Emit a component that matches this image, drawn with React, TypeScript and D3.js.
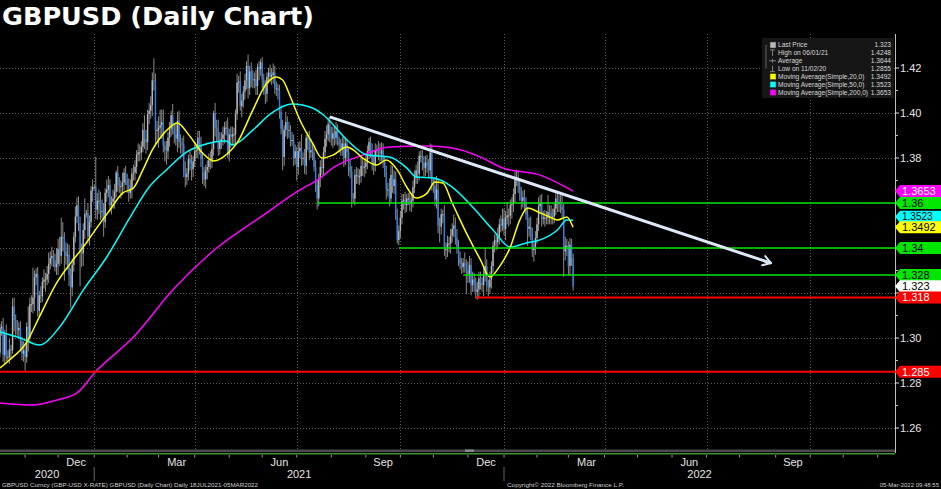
import React from 'react';
import * as d3 from 'd3';

const W = 941;
const H = 489;

// first bar of the chart (Fri 9 Oct 2020); bars are weekdays only
const firstDay = Date.UTC(2020, 9, 9);
const firstOpen = 12935;

// daily closes in pips (1/10000), one row per week
const closes = [
  13045,
  13050, 12925, 13015, 12915, 12915,
  12950, 12945, 13140, 13080, 13045,
  13035, 13045, 12985, 12930, 12945,
  12915, 13050, 13000, 13150, 13150,
  13180, 13270, 13285, 13120, 13190,
  13185, 13250, 13260, 13260, 13285,
  13330, 13355, 13365, 13345, 13315,
  13330, 13395, 13365, 13450, 13440,
  13385, 13365, 13370, 13280, 13225,
  13325, 13450, 13540, 13590, 13510,
  13380, 13375, 13480, 13550, 13555,
  13450, 13515, 13655, 13670, 13670,
  // 2021
  13570, 13610, 13610, 13560, 13565,
  13515, 13645, 13660, 13680, 13590,
  13605, 13620, 13650, 13735, 13685,
  13675, 13675, 13690, 13735, 13705,
  13680, 13645, 13665, 13730, 13735,
  13760, 13815, 13825, 13825, 13850,
  13925, 13885, 13870, 13995, 14010,
  14035, 14145, 14140, 13920, 13925,
  13935, 13945, 13960, 13855, 13835,
  13830, 13890, 13930, 13990, 13925,
  13905, 13885, 13965, 13870, 13865,
  13860, 13740, 13715, 13730, 13795,
  13775, 13750, 13785, 13830, 13835,
  13890, 13860, 13795, 13735, 13705,
  13745, 13760, 13790, 13785, 13840,
  14000, 13935, 13930, 13840, 13875,
  13885, 13905, 13935, 13935, 13815,
  13905, 13895, 13905, 13905, 13995,
  14135, 14140, 14030, 14055, 14095,
  14145, 14210, 14110, 14185, 14150,
  14145, 14150, 14120, 14205, 14195,
  14225, 14150, 14110, 14085, 14160,
  14180, 14160, 14170, 14180, 14110,
  14110, 14100, 14005, 13930, 13805,
  13925, 13960, 13925, 13925, 13880,
  13880, 13800, 13830, 13760, 13830,
  13845, 13800, 13800, 13765, 13890,
  13880, 13825, 13835, 13825, 13760,
  13680, 13620, 13710, 13760, 13755,
  13825, 13885, 13905, 13950, 13905,
  13885, 13910, 13890, 13920, 13875,
  13860, 13840, 13865, 13800, 13865,
  13825, 13760, 13740, 13625, 13620,
  13725, 13725, 13715, 13720, 13765,
  13760, 13760, 13780, 13830, 13870,
  13830, 13780, 13765, 13835, 13835,
  13825, 13820, 13835, 13785, 13735,
  13660, 13660, 13620, 13725, 13675,
  13705, 13545, 13435, 13475, 13535,
  13610, 13615, 13590, 13620, 13620,
  13595, 13610, 13670, 13715, 13745,
  13730, 13810, 13810, 13780, 13755,
  13780, 13765, 13745, 13825, 13680,
  13675, 13615, 13660, 13500, 13495,
  13550, 13550, 13395, 13395, 13420,
  13420, 13455, 13485, 13500, 13445,
  13405, 13355, 13330, 13315, 13335,
  13320, 13300, 13285, 13325, 13235,
  13260, 13245, 13205, 13215, 13265,
  13245, 13235, 13280, 13320, 13235,
  13225, 13260, 13320, 13410, 13435,
  13425, 13450, 13505, 13500, 13530,
  // 2022
  13485, 13535, 13545, 13545, 13590,
  13595, 13640, 13710, 13715, 13675,
  13645, 13610, 13625, 13600, 13550,
  13485, 13495, 13465, 13390, 13405,
  13445, 13505, 13585, 13600, 13530,
  13535, 13535, 13535, 13560, 13555,
  13535, 13540, 13575, 13620, 13595,
  13605, 13585, 13570, 13385, 13410,
  13410, 13320, 13415, 13355, 13230,
];

// wick above the body, pips
const upperWick = [
  18,
  25, 40, 20, 45, 30,
  45, 20, 37, 40, 25,
  35, 25, 30, 20, 40,
  30, 20, 90, 30, 40,
  133, 30, 25, 30, 20,
  40, 20, 45, 30, 35,
  50, 30, 40, 25, 30,
  70, 45, 55, 85, 65,
  30, 40, 50, 45, 30,
  30, 20, 45, 35, 40,
  30, 40, 30, 70, 15,
  45, 30, 20, 35, 10,
  // 2021
  135, 35, 50, 40, 50,
  35, 20, 45, 40, 25,
  25, 40, 35, 10, 30,
  30, 25, 45, 20, 30,
  25, 30, 40, 25, 35,
  30, 20, 40, 35, 25,
  30, 65, 40, 20, 35,
  40, 35, 98, 35, 40,
  50, 70, 55, 55, 20,
  40, 25, 30, 20, 50,
  30, 45, 40, 45, 35,
  25, 40, 45, 25, 20,
  35, 40, 25, 30, 20,
  30, 30, 35, 30, 25,
  25, 30, 30, 40, 30,
  10, 45, 35, 40, 40,
  30, 35, 25, 30, 45,
  25, 35, 35, 30, 20,
  40, 25, 45, 30, 25,
  30, 20, 50, 25, 40,
  40, 30, 40, 15, 25,
  15, 23, 25, 35, 20,
  20, 35, 30, 40, 30,
  30, 20, 25, 30, 40,
  20, 45, 25, 35, 20,
  35, 25, 30, 20, 40,
  30, 60, 25, 40, 15,
  25, 40, 50, 30, 30,
  30, 25, 20, 30, 35,
  25, 35, 40, 30, 33,
  35, 30, 30, 40, 30,
  20, 25, 30, 30, 25,
  20, 25, 35, 25, 20,
  25, 35, 30, 30, 40,
  35, 30, 35, 25, 20,
  25, 35, 30, 30, 25,
  40, 40, 35, 30, 25,
  30, 30, 50, 45, 40,
  40, 35, 30, 25, 30,
  30, 25, 35, 20, 25,
  30, 35, 30, 30, 25,
  40, 20, 24, 25, 30,
  30, 35, 30, 40, 35,
  30, 40, 60, 50, 35,
  25, 20, 40, 30, 35,
  30, 30, 25, 50, 35,
  40, 30, 30, 25, 20,
  45, 30, 40, 40, 30,
  35, 30, 25, 35, 30,
  30, 25, 40, 80, 30,
  25, 35, 20, 20, 25,
  30, 40, 25, 40, 45,
  // 2022
  45, 30, 60, 30, 25,
  30, 25, 30, 34, 30,
  30, 25, 30, 35, 25,
  30, 40, 45, 25, 20,
  30, 30, 40, 35, 40,
  30, 35, 30, 75, 30,
  35, 35, 30, 35, 25,
  30, 30, 50, 25, 40,
  30, 20, 30, 25, 20,
];

// wick below the body, pips
const lowerWick = [
  20,
  35, 30, 45, 20, 25,
  30, 35, 15, 50, 40,
  25, 40, 45, 30, 35,
  60, 25, 60, 20, 35,
  40, 60, 35, 25, 30,
  30, 25, 30, 55, 25,
  40, 25, 35, 30, 20,
  35, 50, 45, 35, 55,
  130, 40, 60, 50, 90,
  40, 30, 25, 30, 35,
  150, 60, 55, 40, 15,
  30, 40, 25, 50, 10,
  // 2021
  40, 45, 60, 35, 30,
  65, 25, 40, 35, 30,
  40, 30, 45, 25, 35,
  30, 55, 40, 35, 25,
  35, 40, 25, 45, 30,
  35, 30, 30, 40, 35,
  25, 45, 50, 35, 45,
  35, 50, 40, 60, 40,
  80, 40, 60, 30, 50,
  60, 35, 40, 35, 20,
  40, 30, 60, 25, 45,
  55, 25, 45, 35, 30,
  30, 50, 35, 25, 30,
  35, 45, 35, 50, 30,
  40, 40, 25, 35, 30,
  30, 40, 55, 30, 25,
  35, 30, 40, 35, 15,
  30, 50, 40, 45, 45,
  25, 45, 20, 50, 30,
  35, 40, 45, 30, 35,
  35, 35, 40, 40, 50,
  30, 40, 30, 45, 35,
  30, 25, 35, 40, 25,
  35, 40, 30, 25, 60,
  40, 30, 40, 35, 30,
  25, 35, 30, 60, 35,
  30, 35, 30, 35, 40,
  45, 35, 25, 35, 20,
  30, 48, 35, 40, 30,
  30, 30, 35, 30, 35,
  30, 40, 35, 30, 20,
  35, 30, 30, 40, 30,
  35, 40, 30, 45, 20,
  30, 40, 30, 35, 30,
  40, 45, 30, 30, 35,
  30, 35, 40, 25, 30,
  35, 40, 35, 30, 20,
  45, 30, 35, 25, 30,
  35, 20, 15, 23, 30,
  30, 40, 35, 30, 30,
  30, 35, 30, 25, 30,
  45, 30, 30, 35, 40,
  35, 30, 35, 30, 25,
  30, 30, 40, 35, 70,
  35, 40, 30, 45, 35,
  40, 45, 30, 35, 30,
  30, 35, 25, 30, 25,
  30, 105, 40, 40, 45,
  30, 40, 30, 35, 40,
  30, 30, 50, 30, 30,
  40, 30, 40, 30, 30,
  35, 30, 35, 30, 25,
  // 2022
  30, 50, 30, 50, 40,
  60, 35, 40, 35, 30,
  35, 40, 30, 40, 25,
  75, 35, 30, 30, 50,
  35, 25, 30, 35, 35,
  25, 40, 30, 30, 50,
  30, 30, 30, 30, 35,
  35, 30, 35, 113, 40,
  45, 45, 40, 35, 20,
];

// moving averages: [bar index, price]
const ma20 = [
  [0, 1.2867], [6, 1.2902], [17, 1.2982], [25, 1.3093], [36, 1.3244], [45, 1.3333],
  [53, 1.3404], [62, 1.3493], [70, 1.3569], [78, 1.3644], [85, 1.3667], [91, 1.3747],
  [97, 1.3836], [105, 1.3915], [113, 1.3956], [120, 1.3905], [129, 1.3822], [136, 1.3787],
  [146, 1.3827], [151, 1.3867], [161, 1.4013], [170, 1.4133], [176, 1.416], [180, 1.4147],
  [185, 1.4071], [191, 1.3969], [199, 1.3867], [205, 1.38], [212, 1.3813], [221, 1.3849],
  [225, 1.3836], [231, 1.38], [240, 1.3769], [246, 1.3791], [253, 1.3747], [259, 1.3671],
  [265, 1.3622], [272, 1.3644], [277, 1.3693], [282, 1.3689], [288, 1.36], [297, 1.3467],
  [306, 1.3347], [312, 1.3271], [318, 1.3316], [325, 1.3404], [331, 1.3524], [336, 1.3578],
  [344, 1.3556], [350, 1.3538], [355, 1.3524], [361, 1.3538], [365, 1.3492],
];
const ma50 = [
  [0, 1.3027], [13, 1.3], [25, 1.2969], [38, 1.3049], [53, 1.3213], [68, 1.336],
  [83, 1.3538], [95, 1.3671], [106, 1.3747], [119, 1.3827], [127, 1.3853], [144, 1.3876],
  [148, 1.3858], [161, 1.3924], [172, 1.3995], [178, 1.4022], [186, 1.404], [199, 1.4022],
  [206, 1.3991], [221, 1.388], [234, 1.3813], [248, 1.3804], [259, 1.3756], [265, 1.3716],
  [276, 1.3711], [288, 1.3671], [301, 1.3582], [314, 1.348], [325, 1.3404], [335, 1.3422],
  [344, 1.3436], [355, 1.348], [361, 1.3524], [365, 1.3523],
];
const ma200 = [
  [0, 1.2711], [21, 1.2702], [36, 1.2724], [49, 1.2756], [61, 1.2851], [85, 1.3004],
  [110, 1.3213], [138, 1.34], [166, 1.3538], [191, 1.3658], [204, 1.3711], [212, 1.3756],
  [231, 1.3813], [248, 1.3849], [272, 1.3853], [288, 1.3844], [306, 1.3804], [320, 1.3756],
  [344, 1.3724], [365, 1.3653],
];

// drawn support / resistance levels and the dates they start from
const levelPrices = [1.36, 1.34, 1.328, 1.318, 1.285];
const levelStarts = ['2021-07-20', '2021-09-30', '2021-11-26', '2021-12-08', '2020-10-09'];
const levelKinds = ['pivot', 'pivot', 'pivot', 'low', 'low'];

// falling trendline: [date, price]
const trendFrom: [string, number] = ['2021-07-30', 1.3983];
const trendTo: [string, number] = ['2022-08-29', 1.3333];

const lastPrice = 1.323;
const legendRows = [
  ['Last Price', '1.323'],
  ['High on 06/01/21', '1.4248'],
  ['Average', '1.3644'],
  ['Low on 11/02/20', '1.2855'],
  ['Moving Average(Simple,20,0)', '1.3492'],
  ['Moving Average(Simple,50,0)', '1.3523'],
  ['Moving Average(Simple,200,0)', '1.3653'],
];
const monthNames = ['Jan', 'Feb', 'Mar', 'Apr', 'May', 'Jun', 'Jul', 'Aug', 'Sep', 'Oct', 'Nov', 'Dec'];

const FONT = "'Liberation Sans', Arial, sans-serif";
const C = {
  bg: '#000000',
  grid: '#5a5a5a',
  text: '#e4e4e4',
  up: '#b8b8b8',
  down: '#2b82e6',
  wick: '#8a8a8a',
  ma20: '#ffff00',
  ma50: '#00ffff',
  ma200: '#ff00ff',
  green: '#00e600',
  red: '#ff0000',
  trend: '#dde9f6',
};

// weekday calendar
const days: Date[] = [];
for (let t = firstDay; days.length < 600; t += 864e5) {
  const wd = new Date(t).getUTCDay();
  if (wd !== 0 && wd !== 6) days.push(new Date(t));
}
const dayIdx = (s: string) => {
  const t = Date.parse(s + 'T00:00:00Z');
  return days.findIndex((d) => d.getTime() >= t);
};

const axisX = 895;
const plotTop = 34;
const plotBottom = 450;

const x = d3.scaleLinear().domain([0, 570]).range([0, axisX]);
const y = d3.scaleLinear().domain([1.26, 1.42]).range([428, 68]);

const bars = closes.map((c, i) => {
  const o = i === 0 ? firstOpen : closes[i - 1];
  return {
    i,
    o: o / 1e4,
    c: c / 1e4,
    h: (Math.max(o, c) + upperWick[i]) / 1e4,
    l: (Math.min(o, c) - lowerWick[i]) / 1e4,
  };
});

const maLine = d3
  .line<number[]>()
  .x((d) => x(d[0]))
  .y((d) => y(d[1]))
  .curve(d3.curveMonotoneX);

// month boundaries
const months: { year: number; month: number; x: number; next: number }[] = [];
for (let k = 0; k < 28; k++) {
  const yr = 2020 + Math.floor((9 + k) / 12);
  const mo = (9 + k) % 12;
  const a = dayIdx(`${yr}-${String(mo + 1).padStart(2, '0')}-01`);
  const nyr = 2020 + Math.floor((10 + k) / 12);
  const nmo = (10 + k) % 12;
  const b = dayIdx(`${nyr}-${String(nmo + 1).padStart(2, '0')}-01`);
  months.push({ year: yr, month: mo, x: x(Math.max(a, 0)), next: x(b) });
}

const tag = (yy: number) =>
  `M${axisX},${yy} L${axisX + 5},${yy - 6} L${W},${yy - 6} L${W},${yy + 6} L${axisX + 5},${yy + 6} Z`;

export default function App() {
  const maLast = (m: number[][]) => m[m.length - 1][1];
  // nudge: the 50-day tag sits just above the 20-day one, mostly covered by it
  const tags = [
    { v: maLast(ma200), text: '1.3653', fill: C.ma200, ink: '#fff', nudge: 0 },
    { v: levelPrices[0], text: String(levelPrices[0]), fill: C.green, ink: '#000', nudge: 0 },
    { v: maLast(ma50), text: '1.3523', fill: C.ma50, ink: '#000', nudge: -3.5 },
    { v: maLast(ma20), text: '1.3492', fill: C.ma20, ink: '#000', nudge: 0 },
    { v: levelPrices[1], text: String(levelPrices[1]), fill: C.green, ink: '#000', nudge: 0 },
    { v: levelPrices[2], text: String(levelPrices[2]), fill: C.green, ink: '#000', nudge: 0 },
    { v: lastPrice, text: String(lastPrice), fill: '#ffffff', ink: '#000', nudge: 0 },
    { v: levelPrices[3], text: String(levelPrices[3]), fill: C.red, ink: '#fff', nudge: 0 },
    { v: levelPrices[4], text: String(levelPrices[4]), fill: C.red, ink: '#fff', nudge: 0 },
  ];

  const yTicks = d3.range(0, 9).map((k) => 1.26 + 0.02 * k);
  const yMinor = d3.range(0, 8).map((k) => 1.27 + 0.02 * k);
  // axis labels sitting under a price tag are hidden by it
  const yLabelled = yTicks.filter((v) => !tags.some((t) => Math.abs(y(t.v) - y(v)) < 8));
  const quarters = months.filter((m) => m.month % 3 === 0 && m.x > 0 && m.x < axisX);
  const labelled = months.filter((m) => m.month % 3 === 2 && m.next < axisX);
  const yearStarts = months.filter((m) => m.month === 0 && m.x < axisX);
  const yearSpans = [
    { label: '2020', a: 0, b: yearStarts[0].x },
    { label: '2021', a: yearStarts[0].x, b: yearStarts[1].x },
    { label: '2022', a: yearStarts[1].x, b: axisX },
  ];

  const t0 = [x(dayIdx(trendFrom[0])), y(trendFrom[1])];
  const t1 = [x(dayIdx(trendTo[0])), y(trendTo[1])];
  const ang = Math.atan2(t1[1] - t0[1], t1[0] - t0[0]);
  const head = [ang + Math.PI * 0.82, ang - Math.PI * 0.82].map((a) => [
    t1[0] + 9 * Math.cos(a),
    t1[1] + 9 * Math.sin(a),
  ]);

  const legendIcon = [C.up, null, null, null, C.ma20, C.ma50, C.ma200];
  const legendY = (k: number) => 45 + k * 7.9;

  return (
    <>
      <style>{'body{margin:0;background:#000}'}</style>
      <svg width={W} height={H} style={{ display: 'block', fontFamily: FONT }}>
        <rect width={W} height={H} fill={C.bg} />

        {/* title */}
        <text x={2} y={25} fill="#fff" fontSize={25} fontWeight="bold"
          fontFamily="'DejaVu Sans', Verdana, sans-serif" textLength={312} lengthAdjust="spacingAndGlyphs">
          GBPUSD (Daily Chart)
        </text>

        {/* grid */}
        {yTicks.map((v) => (
          <line key={'gy' + v} x1={0} x2={axisX} y1={Math.round(y(v)) + 0.5} y2={Math.round(y(v)) + 0.5}
            stroke={C.grid} strokeDasharray="1 2" />
        ))}
        {quarters.map((m) => (
          <line key={'gx' + m.year + m.month} x1={Math.round(m.x) + 0.5} x2={Math.round(m.x) + 0.5}
            y1={plotTop} y2={plotBottom} stroke={C.grid} strokeDasharray="1 2" />
        ))}

        {/* candles */}
        {bars.map((b) => {
          const cx = x(b.i);
          const top = y(Math.max(b.o, b.c));
          const bh = Math.max(1, Math.abs(y(b.o) - y(b.c)));
          return (
            <g key={b.i}>
              <line x1={cx} x2={cx} y1={y(b.h)} y2={y(b.l)} stroke={C.wick} strokeWidth={1} />
              <rect x={cx - 0.7} y={top} width={1.4} height={bh} fill={b.c >= b.o ? C.up : C.down} />
            </g>
          );
        })}

        {/* moving averages */}
        <path d={maLine(ma200 as number[][]) || ''} fill="none" stroke={C.ma200} strokeWidth={1.5} />
        <path d={maLine(ma50 as number[][]) || ''} fill="none" stroke={C.ma50} strokeWidth={1.5} />
        <path d={maLine(ma20 as number[][]) || ''} fill="none" stroke={C.ma20} strokeWidth={1.5} />

        {/* horizontal levels */}
        {levelPrices.map((p, k) => (
          <line key={'lv' + p} x1={x(dayIdx(levelStarts[k]))} x2={axisX} y1={y(p)} y2={y(p)}
            stroke={levelKinds[k] === 'low' ? C.red : C.green} strokeWidth={levelKinds[k] === 'low' ? 2 : 1.6} />
        ))}

        {/* trendline */}
        <line x1={t0[0]} y1={t0[1]} x2={t1[0]} y2={t1[1]} stroke={C.trend} strokeWidth={3} />
        {head.map((h, k) => (
          <line key={'ah' + k} x1={t1[0]} y1={t1[1]} x2={h[0]} y2={h[1]} stroke={C.trend} strokeWidth={2} strokeLinecap="round" />
        ))}

        {/* legend */}
        <rect x={762} y={38} width={132} height={60} fill="#161616" />
        <line x1={766} x2={766} y1={legendY(0)} y2={legendY(3)} stroke="#777" strokeWidth={0.8} />
        {legendRows.map((r, k) => {
          const cy = legendY(k);
          return (
            <g key={'lg' + k}>
              {legendIcon[k] && <rect x={770} y={cy - 3} width={6} height={6} fill={legendIcon[k] as string} stroke="#333" strokeWidth={0.5} />}
              {k === 1 && (<g stroke="#999" strokeWidth={0.8}><line x1={770} x2={775} y1={cy - 3} y2={cy - 3} /><line x1={772.5} x2={772.5} y1={cy - 3} y2={cy + 3} /></g>)}
              {k === 2 && (<g stroke="#999" strokeWidth={0.8}><line x1={769} x2={776} y1={cy} y2={cy} /><line x1={772.5} x2={772.5} y1={cy - 2} y2={cy + 2} /></g>)}
              {k === 3 && (<g stroke="#999" strokeWidth={0.8}><line x1={770} x2={775} y1={cy + 3} y2={cy + 3} /><line x1={772.5} x2={772.5} y1={cy - 3} y2={cy + 3} /></g>)}
              <text x={778} y={cy} dy="0.35em" fontSize={6.6} fill="#d8d8d8">{r[0]}</text>
              <text x={891} y={cy} dy="0.35em" fontSize={6.6} fill="#d8d8d8" textAnchor="end">{r[1]}</text>
            </g>
          );
        })}

        {/* right axis */}
        <line x1={axisX + 0.5} x2={axisX + 0.5} y1={plotTop} y2={453} stroke="#bdbdbd" />
        {yMinor.map((v) => (
          <line key={'ym' + v} x1={axisX} x2={axisX + 3} y1={y(v)} y2={y(v)} stroke="#bdbdbd" />
        ))}
        {yTicks.map((v) => (
          <line key={'yk' + v} x1={axisX} x2={axisX + 4} y1={y(v)} y2={y(v)} stroke="#e0e0e0" />
        ))}
        {yLabelled.map((v) => (
          <text key={'yt' + v} x={900} y={y(v)} dy="0.36em" fontSize={11} fill={C.text}>{d3.format('.2f')(v)}</text>
        ))}
        {tags.map((t, k) => {
          const ty = y(t.v) + t.nudge;
          return (
            <g key={'tg' + k}>
              <path d={tag(ty)} fill={t.fill} />
              <text x={902} y={ty} dy="0.36em" fontSize={t.nudge ? 10 : 11} fill={t.ink}>{t.text}</text>
            </g>
          );
        })}

        {/* bottom axis */}
        <rect x={0} y={449.5} width={axisX} height={2.5} fill="#4a4a4a" />
        <rect x={465} y={449.5} width={9} height={2.5} fill="#8a8a8a" />
        <line x1={0} x2={axisX} y1={453.8} y2={453.8} stroke="#3f8f3a" strokeWidth={1.6} />
        {months.filter((m) => m.x > 0 && m.x < axisX).map((m) => (
          <line key={'mt' + m.year + m.month} x1={m.x} x2={m.x} y1={455} y2={457.5} stroke="#9a9a9a" />
        ))}
        {labelled.map((m) => (
          <text key={'ml' + m.year + m.month} x={(m.x + m.next) / 2} y={462} dy="0.36em"
            fontSize={11} fill={C.text} textAnchor="middle">{monthNames[m.month]}</text>
        ))}
        {yearStarts.map((m) => (
          <line key={'ys' + m.year} x1={m.x} x2={m.x} y1={467} y2={481} stroke="#666" />
        ))}
        {yearSpans.map((s) => (
          <text key={'yl' + s.label} x={(s.a + s.b) / 2} y={474.5} dy="0.36em" fontSize={11}
            fill={C.text} textAnchor="middle">{s.label}</text>
        ))}

        {/* footer */}
        <text x={2} y={487} fontSize={6} fill="#cfcfcf" textLength={256} lengthAdjust="spacingAndGlyphs">
          GBPUSD Curncy (GBP-USD X-RATE) GBPUSD (Daily Chart)  Daily 18JUL2021-05MAR2022
        </text>
        <text x={507} y={487} fontSize={6} fill="#cfcfcf" textLength={117} lengthAdjust="spacingAndGlyphs">
          Copyright© 2022 Bloomberg Finance L.P.
        </text>
        <text x={939} y={487} fontSize={6} fill="#cfcfcf" textAnchor="end">
          05-Mar-2022 09:48:55
        </text>
      </svg>
    </>
  );
}
